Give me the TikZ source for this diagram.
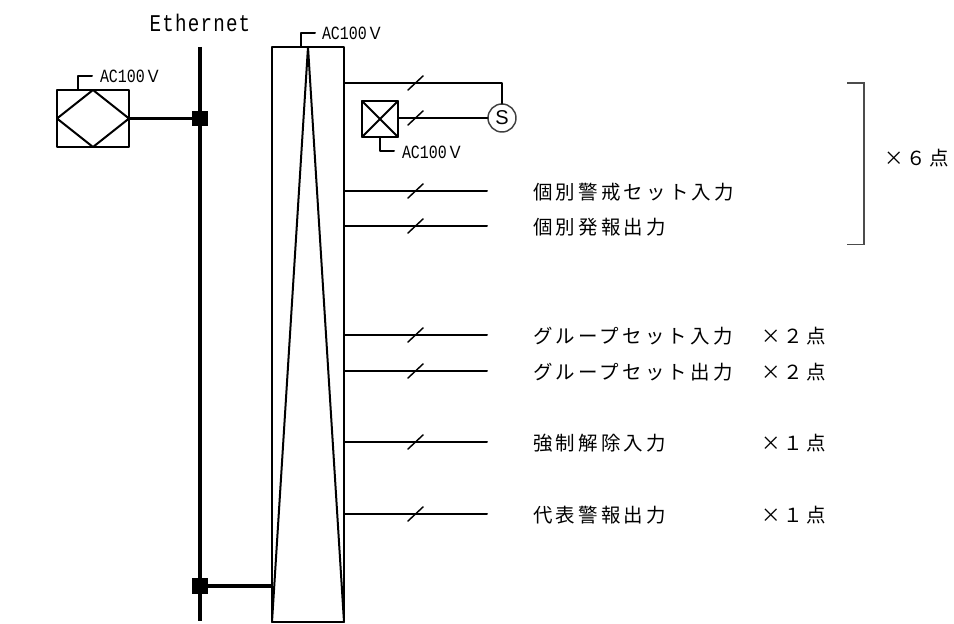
\documentclass[tikz,border=0pt]{standalone}
\usepackage{fontspec}
\setmainfont{Liberation Sans}
\newfontfamily\cjkfont[LetterSpace=16.5]{Noto Sans CJK JP}
\newfontfamily\cjkplain{Noto Sans CJK JP}
\newfontfamily\monoE[FakeStretch=0.8,LetterSpace=5]{Liberation Mono}
\newfontfamily\monoA[FakeStretch=0.8]{Liberation Mono}
\newcommand{\acv}{{\monoA\fontsize{14pt}{14pt}\selectfont AC100}{\cjkplain\fontsize{12.5pt}{14pt}\selectfont Ｖ}}
\tikzset{
  thin wire/.style={line width=1.5pt,line cap=round,line join=round},
  thick wire/.style={line width=2.6pt},
  device/.style={draw,line width=1.5pt,inner sep=0pt,outer sep=0pt,line join=round},
  junction/.style={fill=black,inner sep=0pt,outer sep=0pt,minimum size=11.5pt},
  lab/.style={anchor=west,inner sep=0pt,outer sep=0pt,font=\cjkfont\fontsize{14.6pt}{16pt}\selectfont},
  aclab/.style={anchor=west,inner sep=0pt,outer sep=0pt},
  tickmark/.style={line width=1.1pt,line cap=round}
}
\newcommand{\crossmark}[1]{\draw[tickmark] ([shift={(-7,7)}]#1) -- ([shift={(8,-7)}]#1);}
\begin{document}
\begin{tikzpicture}[x=0.75pt,y=-0.75pt]
\useasboundingbox (0,0) rectangle (954,624);
% bus
\coordinate (bustop) at (200,47);
\coordinate (busbot) at (200,621);
\draw[line width=3pt] (bustop) -- (busbot);
\node[junction] (j1) at (200,118.5) {};
\node[junction] (j2) at (200,586) {};
\node[anchor=center,inner sep=0pt,font=\monoE\fontsize{18pt}{20pt}\selectfont] (eth) at (200,23) {Ethernet};
% converter
\node[device,minimum width=54pt,minimum height=42.75pt] (conv) at (93,118.5) {};
\draw[thin wire] (conv.west) -- (conv.north) -- (conv.east) -- (conv.south) -- cycle;
\draw[thick wire] (conv.east) -- (j1.west);
\coordinate (convp) at (78,76);
\coordinate (convq) at (92,76);
\draw[thin wire] (78,90) -- (convp) -- (convq);
\node[aclab] (ac1) at (100,76) {\acv};
% main panel
\node[device,minimum width=54pt,minimum height=431.25pt] (panel) at (308,334.5) {};
\draw[thin wire] (panel.north) -- (panel.south west);
\draw[thin wire] (panel.north) -- (panel.south east);
\draw[thick wire] (j2.east) -- (panel.west |- j2.east);
\coordinate (pp) at (301,33);
\coordinate (pq) at (315,33);
\draw[thin wire] (301,47) -- (pp) -- (pq);
\node[aclab] (ac2) at (322,33) {\acv};
% S device
\node[draw,circle,line width=1.1pt,draw=black!75,inner sep=0pt,minimum size=21pt,font=\fontsize{15pt}{16pt}\selectfont] (S) at (502,118) {S};
\coordinate (sc) at (502,83);
\draw[thin wire] (344,83) -- (sc) -- (S.north);
\crossmark{415,83}
% contactor
\node[device,minimum width=27pt,minimum height=27pt] (cont) at (380,119) {};
\draw[thin wire] (cont.north west) -- (cont.south east);
\draw[thin wire] (cont.north east) -- (cont.south west);
\draw[thin wire] (cont.east |- S.west) -- (S.west);
\crossmark{415,118}
\coordinate (cp) at (380,151);
\coordinate (cq) at (394,151);
\draw[thin wire] (cont.south) -- (cp) -- (cq);
\node[aclab] (ac3) at (402,152) {\acv};
% signal lines
\foreach \y/\t in {191/個別警戒セット入力,226/個別発報出力,335/グループセット入力,371/グループセット出力,442/強制解除入力,514/代表警報出力}{
  \coordinate (e\y) at (487,\y);
  \draw[thin wire] (344,\y) -- (e\y);
  \crossmark{415,\y}
  \node[lab] (t\y) at (533,\y+1) {\t};
}
\foreach \y/\t in {335/×２点,371/×２点,442/×１点,514/×１点}{
  \node[lab] (m\y) at (761,\y+1) {\t};
}
% bracket
\coordinate (ba) at (847,83);
\coordinate (bb) at (864,83);
\coordinate (bc) at (864,244.5);
\coordinate (bd) at (847,244.5);
\draw[line width=1pt,draw=black!70] (ba) -- (bb) -- (bc) -- (bd);
\node[lab] (m6) at (884,158) {×６点};
\end{tikzpicture}
\end{document}
